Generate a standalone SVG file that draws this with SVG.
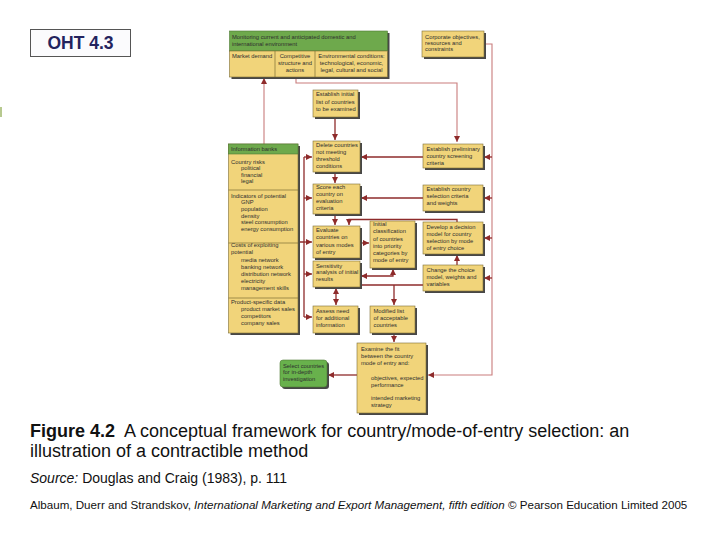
<svg xmlns="http://www.w3.org/2000/svg" width="720" height="540" viewBox="0 0 720 540">
<style>
.bx{fill:#f1d47a;stroke:#7d6d35;stroke-width:0.6}
.hd{fill:#6ea94c;stroke:#4e7a34;stroke-width:0.6}
.gr{fill:#68b14c;stroke:#4e7a34;stroke-width:0.6}
.sh{fill:#474747}
.dv{stroke:#7d6d35;stroke-width:0.7}
.t{font-family:"Liberation Sans",Arial,sans-serif;font-size:5.8px;fill:#2e2e2e}
.c{fill:none;stroke:#8e2b2b;stroke-width:1.3}
.cl{fill:none;stroke:#c97c7c;stroke-width:1.1}
.cap{font-family:"Liberation Sans",Arial,sans-serif;fill:#111}
</style>
<defs>
<marker id="ah" markerUnits="userSpaceOnUse" markerWidth="6" markerHeight="6" refX="6" refY="3" orient="auto-start-reverse">
<path d="M0,0 L6,3 L0,6 z" fill="#8e2b2b"/>
</marker>
</defs>
<rect width="720" height="540" fill="#ffffff"/>
<rect x="0" y="107" width="2" height="10" fill="#b7c98f"/>

<g id="oht">
<rect x="30.5" y="29.5" width="100" height="27" fill="#fbfbfd" stroke="#555" stroke-width="1"/>
<text x="80.5" y="49" text-anchor="middle" font-family="'Liberation Sans',Arial,sans-serif" font-weight="bold" font-size="17.5" fill="#23235e">OHT 4.3</text>
</g>

<g id="connectors">
<path class="cl" d="M296,77 V83 H457 V142" marker-end="url(#ah)"/>
<path class="cl" d="M484,44 H492 V375 H428" marker-end="url(#ah)"/>
<path class="c" d="M492,157 H484" marker-end="url(#ah)"/>
<path class="c" d="M492,198 H484" marker-end="url(#ah)"/>
<path class="c" d="M492,238 H484" marker-end="url(#ah)"/>
<path class="c" d="M492,278 H484" marker-end="url(#ah)"/>
<path class="c" d="M335,117 V140" marker-end="url(#ah)"/>
<path class="cl" d="M264,144 V78" marker-end="url(#ah)"/>
<path class="c" d="M298,242 H304 M304,157 V317"/>
<path class="c" d="M304,157 H312" marker-end="url(#ah)"/>
<path class="c" d="M304,198 H312" marker-end="url(#ah)"/>
<path class="c" d="M304,242 H312" marker-end="url(#ah)"/>
<path class="c" d="M304,274 H312" marker-end="url(#ah)"/>
<path class="c" d="M304,317 H312" marker-end="url(#ah)"/>
<path class="c" d="M335,172 V183" marker-end="url(#ah)"/>
<path class="c" d="M335,214 V225" marker-end="url(#ah)"/>
<path class="c" d="M423,157 H361" marker-end="url(#ah)"/>
<path class="c" d="M423,198 H361" marker-end="url(#ah)"/>
<path class="c" d="M457,222 V219.5 H349 V225" marker-end="url(#ah)"/>
<path class="c" d="M360,243 H369" marker-end="url(#ah)"/>
<path class="c" d="M393,269 V276 H361" marker-start="url(#ah)" marker-end="url(#ah)"/>
<path class="c" d="M361,285 H423"/>
<path class="c" d="M394,285 V305" marker-end="url(#ah)"/>
<path class="c" d="M336,288 V305" marker-start="url(#ah)" marker-end="url(#ah)"/>
<path class="c" d="M394,333 V342" marker-end="url(#ah)"/>
<path class="c" d="M357,375 H328" marker-end="url(#ah)"/>
<path class="c" d="M457,265 V255" marker-end="url(#ah)"/>
</g>

<g id="monitoring">
<rect class="sh" x="231.5" y="33" width="158" height="46"/>
<rect class="hd" x="229.5" y="31" width="158" height="20"/>
<rect class="bx" x="229.5" y="51" width="158" height="26"/>
<line class="dv" x1="275" y1="51" x2="275" y2="77"/>
<line class="dv" x1="315" y1="51" x2="315" y2="77"/>
<text class="t" x="232" y="38.5">Monitoring current and anticipated domestic and</text>
<text class="t" x="232" y="45.5">international environment</text>
<text class="t" x="232" y="57.5">Market demand</text>
<text class="t" text-anchor="middle" x="295" y="57.5">Competitive</text>
<text class="t" text-anchor="middle" x="295" y="64.5">structure and</text>
<text class="t" text-anchor="middle" x="295" y="71.5">actions</text>
<text class="t" text-anchor="middle" x="351.5" y="57.5">Environmental conditions:</text>
<text class="t" text-anchor="middle" x="351.5" y="64.5">technological, economic,</text>
<text class="t" text-anchor="middle" x="351.5" y="71.5">legal, cultural and social</text>
</g>

<g id="corporate">
<rect class="sh" x="424" y="33" width="62" height="26"/>
<rect class="bx" x="422" y="31" width="62" height="26"/>
<text class="t" x="425" y="38.5">Corporate objectives,</text>
<text class="t" x="425" y="44.8">resources and</text>
<text class="t" x="425" y="51">constraints</text>
</g>

<g id="initial-list">
<rect class="sh" x="315" y="92" width="45" height="27"/>
<rect class="bx" x="313" y="90" width="45" height="27"/>
<text class="t" x="316" y="96">Establish initial</text>
<text class="t" x="316" y="103.5">list of countries</text>
<text class="t" x="316" y="111">to be examined</text>
</g>

<g id="info-banks">
<rect class="sh" x="230.5" y="146" width="69.5" height="189"/>
<rect class="bx" x="228.5" y="144" width="69.5" height="189"/>
<rect class="hd" x="228.5" y="144" width="69.5" height="10"/>
<line class="dv" x1="228.5" y1="190" x2="298" y2="190"/>
<line class="dv" x1="228.5" y1="243" x2="298" y2="243"/>
<line class="dv" x1="228.5" y1="298" x2="298" y2="298"/>
<text class="t" x="231" y="151">Information banks</text>
<text class="t" x="231" y="163.5">Country risks</text>
<text class="t" x="241" y="170">political</text>
<text class="t" x="241" y="176.5">financial</text>
<text class="t" x="241" y="183.3">legal</text>
<text class="t" x="231" y="197.7">Indicators of potential</text>
<text class="t" x="241" y="204.3">GNP</text>
<text class="t" x="241" y="211">population</text>
<text class="t" x="241" y="217.7">density</text>
<text class="t" x="241" y="224.4">steel consumption</text>
<text class="t" x="241" y="231.1">energy consumption</text>
<text class="t" x="231" y="247">Costs of exploiting</text>
<text class="t" x="231" y="254">potential</text>
<text class="t" x="241" y="261.5">media network</text>
<text class="t" x="241" y="268.8">banking network</text>
<text class="t" x="241" y="275.8">distribution network</text>
<text class="t" x="241" y="282.7">electricity</text>
<text class="t" x="241" y="289.8">management skills</text>
<text class="t" x="231" y="304">Product-specific data</text>
<text class="t" x="241" y="311">product market sales</text>
<text class="t" x="241" y="318">competitors</text>
<text class="t" x="241" y="325">company sales</text>
</g>

<g id="delete">
<rect class="sh" x="315" y="143" width="47" height="31"/>
<rect class="bx" x="313" y="141" width="47" height="31"/>
<text class="t" x="316" y="147">Delete countries</text>
<text class="t" x="316" y="154.3">not meeting</text>
<text class="t" x="316" y="161.3">threshold</text>
<text class="t" x="316" y="168.3">conditions</text>
</g>

<g id="score">
<rect class="sh" x="315" y="186" width="47" height="30"/>
<rect class="bx" x="313" y="184" width="47" height="30"/>
<text class="t" x="316" y="189">Score each</text>
<text class="t" x="316" y="196">country on</text>
<text class="t" x="316" y="203.2">evaluation</text>
<text class="t" x="316" y="210.3">criteria</text>
</g>

<g id="evaluate">
<rect class="sh" x="315" y="228" width="47" height="32"/>
<rect class="bx" x="313" y="226" width="47" height="32"/>
<text class="t" x="316" y="232">Evaluate</text>
<text class="t" x="316" y="239.3">countries on</text>
<text class="t" x="316" y="246.7">various modes</text>
<text class="t" x="316" y="254">of entry</text>
</g>

<g id="sensitivity">
<rect class="sh" x="315" y="263" width="47" height="26"/>
<rect class="bx" x="313" y="261" width="47" height="26"/>
<text class="t" x="316" y="267.5">Sensitivity</text>
<text class="t" x="316" y="274.3">analysis of initial</text>
<text class="t" x="316" y="281.2">results</text>
</g>

<g id="assess">
<rect class="sh" x="315" y="308" width="45" height="27"/>
<rect class="bx" x="313" y="306" width="45" height="27"/>
<text class="t" x="316" y="313">Assess need</text>
<text class="t" x="316" y="320">for additional</text>
<text class="t" x="316" y="327">information</text>
</g>

<g id="classification">
<rect class="sh" x="372" y="223" width="45" height="47"/>
<rect class="bx" x="370" y="221" width="45" height="47"/>
<text class="t" x="373" y="226">Initial</text>
<text class="t" x="373" y="233.3">classification</text>
<text class="t" x="373" y="240.6">of countries</text>
<text class="t" x="373" y="247.8">into priority</text>
<text class="t" x="373" y="255">categories by</text>
<text class="t" x="373" y="262.3">mode of entry</text>
</g>

<g id="modified">
<rect class="sh" x="372" y="308" width="45" height="27"/>
<rect class="bx" x="370" y="306" width="45" height="27"/>
<text class="t" x="373.5" y="313">Modified list</text>
<text class="t" x="373.5" y="320">of acceptable</text>
<text class="t" x="373.5" y="327">countries</text>
</g>

<g id="examine">
<rect class="sh" x="359" y="345" width="69" height="70"/>
<rect class="bx" x="357" y="343" width="69" height="70"/>
<text class="t" x="361" y="351">Examine the fit</text>
<text class="t" x="361" y="358.2">between the country</text>
<text class="t" x="361" y="365.4">mode of entry and:</text>
<text class="t" x="371" y="379.5">objectives, expected</text>
<text class="t" x="371" y="386.7">performance</text>
<text class="t" x="371" y="400.2">intended marketing</text>
<text class="t" x="371" y="407.4">strategy</text>
</g>

<g id="select">
<rect class="sh" x="282" y="362" width="47" height="27" rx="3"/>
<rect class="gr" x="280" y="360" width="47" height="27" rx="3"/>
<text class="t" x="283" y="367.5">Select countries</text>
<text class="t" x="283" y="374.2">for in-depth</text>
<text class="t" x="283" y="380.9">investigation</text>
</g>

<g id="preliminary">
<rect class="sh" x="425" y="146" width="60" height="24"/>
<rect class="bx" x="423" y="144" width="60" height="24"/>
<text class="t" x="426.5" y="151">Establish preliminary</text>
<text class="t" x="426.5" y="157.8">country screening</text>
<text class="t" x="426.5" y="164.5">criteria</text>
</g>

<g id="selection-criteria">
<rect class="sh" x="425" y="187" width="60" height="26"/>
<rect class="bx" x="423" y="185" width="60" height="26"/>
<text class="t" x="426.5" y="190.5">Establish country</text>
<text class="t" x="426.5" y="197.5">selection criteria</text>
<text class="t" x="426.5" y="204.5">and weights</text>
</g>

<g id="decision-model">
<rect class="sh" x="425" y="224" width="60" height="32"/>
<rect class="bx" x="423" y="222" width="60" height="32"/>
<text class="t" x="426.5" y="229">Develop a decision</text>
<text class="t" x="426.5" y="236">model for country</text>
<text class="t" x="426.5" y="243">selection by mode</text>
<text class="t" x="426.5" y="250">of entry choice</text>
</g>

<g id="change">
<rect class="sh" x="425" y="267" width="60" height="26"/>
<rect class="bx" x="423" y="265" width="60" height="26"/>
<text class="t" x="426.5" y="271.8">Change the choice</text>
<text class="t" x="426.5" y="278.6">model, weights and</text>
<text class="t" x="426.5" y="285.6">variables</text>
</g>

<g id="caption">
<text class="cap" x="30" y="437" font-size="18"><tspan font-weight="bold">Figure 4.2</tspan>&#160; A conceptual framework for country/mode-of-entry selection: an</text>
<text class="cap" x="30" y="457" font-size="18">illustration of a contractible method</text>
<text class="cap" x="30" y="483" font-size="14"><tspan font-style="italic">Source:</tspan> Douglas and Craig (1983), p. 111</text>
<text class="cap" x="30" y="509" font-size="11.6">Albaum, Duerr and Strandskov, <tspan font-style="italic">International Marketing and Export Management, fifth edition</tspan> © Pearson Education Limited 2005</text>
</g>
</svg>
